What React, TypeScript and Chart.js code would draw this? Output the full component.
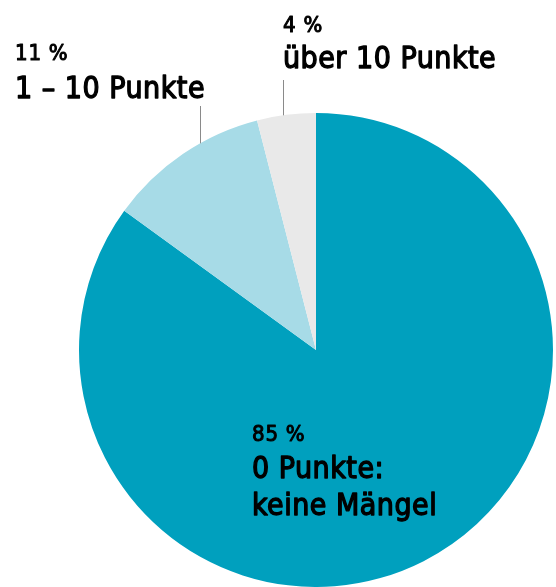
import React, { useEffect, useRef } from "react";
import { Chart, registerables } from "chart.js";

Chart.register(...registerables);

const categories = ["0 Punkte: keine Mängel", "1 – 10 Punkte", "über 10 Punkte"];
const values = [85, 11, 4];
const percentLabels = ["85 %", "11 %", "4 %"];
const nameLines = [["0 Punkte:", "keine Mängel"], ["1 – 10 Punkte"], ["über 10 Punkte"]];
const colors = ["#00A0BE", "#A7DBE7", "#E9E9E9"];

const FONT = "'DejaVu Sans Condensed', sans-serif";

const labelPos: Array<{ x: number; py: number; ny: number; gap: number; lx: number | null; ly: number }> = [
  { x: 252, py: 441, ny: 478, gap: 37, lx: null, ly: 0 },
  { x: 15, py: 60, ny: 98, gap: 37, lx: 200, ly: 106 },
  { x: 283, py: 32, ny: 68, gap: 37, lx: 283, ly: 80 },
];

function drawText(ctx: CanvasRenderingContext2D, text: string, x: number, y: number, stroke: number) {
  ctx.fillText(text, x, y);
  ctx.lineWidth = stroke;
  ctx.strokeText(text, x, y);
}

const labelPlugin = {
  id: "pieLabels",
  afterDraw(chart: any) {
    const ctx = chart.ctx as any;
    const meta = chart.getDatasetMeta(0);
    ctx.save();
    meta.data.forEach((arc: any, i: number) => {
      const p = labelPos[i];
      const { x: cx, y: cy, outerRadius: r } = arc.getProps(["x", "y", "outerRadius"], true);
      if (p.lx !== null) {
        const dx = p.lx - cx;
        const endY = cy - Math.sqrt(Math.max(0, r * r - dx * dx));
        ctx.strokeStyle = "#8a8a8a";
        ctx.lineWidth = 1;
        ctx.beginPath();
        ctx.moveTo(p.lx + 0.5, p.ly);
        ctx.lineTo(p.lx + 0.5, endY);
        ctx.stroke();
      }
      ctx.fillStyle = "#000";
      ctx.strokeStyle = "#000";
      ctx.lineJoin = "round";
      ctx.textAlign = "left";
      ctx.textBaseline = "alphabetic";
      ctx.font = `22px ${FONT}`;
      ctx.letterSpacing = "0.8px";
      drawText(ctx, percentLabels[i], p.x, p.py, 1.0);
      ctx.font = `30px ${FONT}`;
      ctx.letterSpacing = "0.5px";
      nameLines[i].forEach((line, j) => drawText(ctx, line, p.x, p.ny + j * p.gap, 1.3));
    });
    ctx.restore();
  },
};

export default function App() {
  const ref = useRef<HTMLCanvasElement | null>(null);
  useEffect(() => {
    if (!ref.current) return;
    const chart = new Chart(ref.current, {
      type: "pie",
      data: {
        labels: categories,
        datasets: [{ data: values, backgroundColor: colors, borderWidth: 0 }],
      },
      options: {
        animation: false,
        responsive: false,
        layout: { padding: { left: 79, top: 113, right: 3, bottom: 0 } },
        plugins: { legend: { display: false }, tooltip: { enabled: false } },
      },
      plugins: [labelPlugin],
    });
    return () => chart.destroy();
  }, []);
  return (
    <div style={{ position: "fixed", left: 0, top: 0, width: 556, height: 587, background: "#fff" }}>
      <canvas ref={ref} width={556} height={587} />
    </div>
  );
}
